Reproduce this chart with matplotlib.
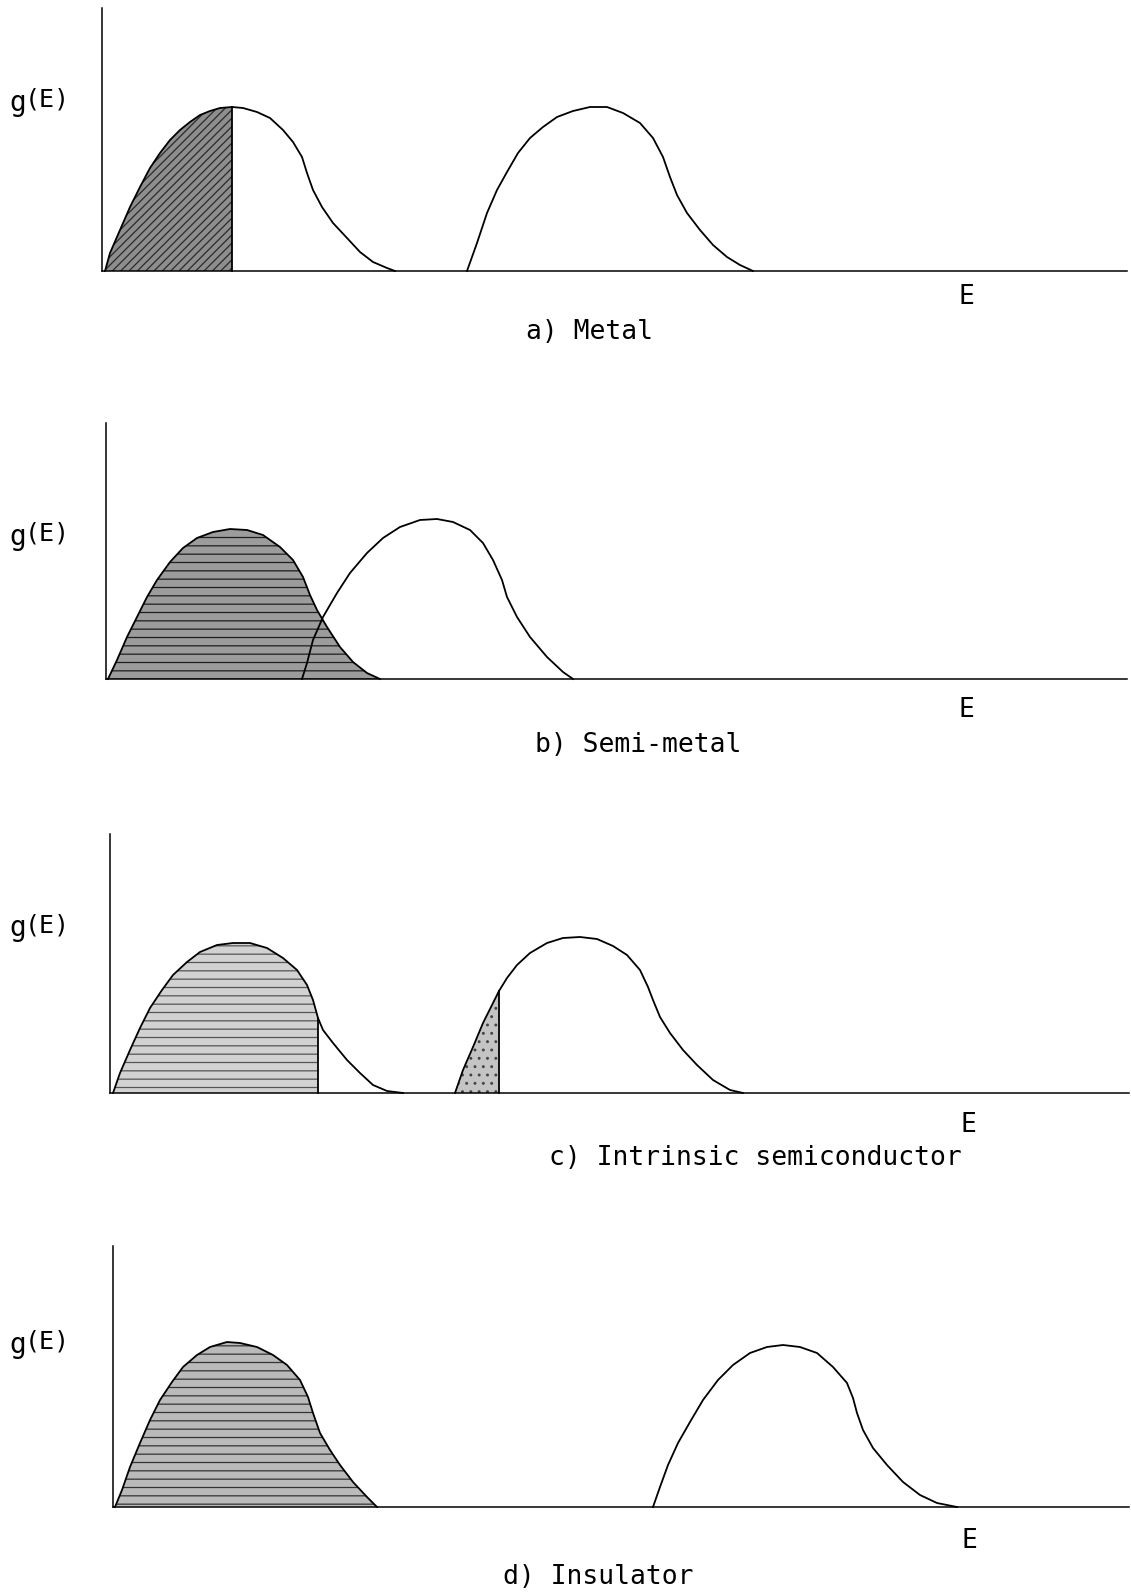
import numpy as np
import matplotlib
matplotlib.use('Agg')
import matplotlib.pyplot as plt

W, H = 1131, 1595

# density of states curves, E and g(E) in the same units on every panel
# ---- a) metal
a_E1 = [0.03, 0.08, 0.18, 0.28, 0.38, 0.48, 0.58, 0.68, 0.78, 0.88, 0.98, 1.08, 1.18, 1.30,
        1.41, 1.55, 1.68, 1.81, 1.91, 2.00, 2.05, 2.11, 2.20, 2.31, 2.45, 2.58, 2.71, 2.85, 2.93]
a_g1 = [0.00, 0.18, 0.41, 0.64, 0.84, 1.03, 1.18, 1.31, 1.41, 1.49, 1.56, 1.60, 1.63, 1.64,
        1.63, 1.59, 1.53, 1.41, 1.29, 1.14, 0.98, 0.81, 0.64, 0.48, 0.33, 0.19, 0.09, 0.03, 0.00]
a_E2 = [3.65, 3.75, 3.85, 3.95, 4.05, 4.16, 4.28, 4.41, 4.55, 4.71, 4.88, 5.05, 5.21, 5.38,
        5.51, 5.61, 5.68, 5.75, 5.85, 5.98, 6.11, 6.25, 6.38, 6.51]
a_g2 = [0.00, 0.28, 0.58, 0.81, 0.99, 1.18, 1.33, 1.44, 1.54, 1.60, 1.64, 1.64, 1.58, 1.48,
        1.33, 1.14, 0.94, 0.76, 0.58, 0.41, 0.26, 0.14, 0.06, 0.00]
a_fermi = 1.30

# ---- b) semi-metal
b_E1 = [0.02, 0.11, 0.21, 0.31, 0.41, 0.51, 0.64, 0.77, 0.91, 1.07, 1.24, 1.41, 1.57, 1.74,
        1.87, 1.97, 2.04, 2.11, 2.21, 2.34, 2.47, 2.61, 2.74]
b_g1 = [0.00, 0.19, 0.42, 0.62, 0.82, 0.99, 1.17, 1.31, 1.41, 1.47, 1.50, 1.49, 1.44, 1.32,
        1.19, 1.02, 0.84, 0.69, 0.52, 0.32, 0.17, 0.06, 0.00]
b_E2 = [1.96, 2.01, 2.07, 2.17, 2.31, 2.44, 2.61, 2.77, 2.94, 3.14, 3.31, 3.47, 3.64, 3.77,
        3.87, 3.96, 4.01, 4.11, 4.24, 4.41, 4.57, 4.67]
b_g2 = [0.00, 0.16, 0.39, 0.62, 0.86, 1.06, 1.26, 1.41, 1.52, 1.59, 1.60, 1.57, 1.49, 1.36,
        1.19, 0.99, 0.82, 0.62, 0.42, 0.22, 0.07, 0.00]
b_fermi = 2.74

# ---- c) intrinsic semiconductor
c_E1 = [0.03, 0.10, 0.20, 0.30, 0.40, 0.52, 0.63, 0.77, 0.90, 1.07, 1.23, 1.40, 1.57, 1.73,
        1.87, 1.97, 2.03, 2.08, 2.13, 2.23, 2.37, 2.50, 2.63, 2.77, 2.93]
c_g1 = [0.00, 0.20, 0.43, 0.65, 0.85, 1.03, 1.18, 1.31, 1.41, 1.48, 1.50, 1.50, 1.45, 1.35,
        1.23, 1.08, 0.93, 0.75, 0.63, 0.50, 0.33, 0.20, 0.08, 0.02, 0.00]
c_E2 = [3.45, 3.53, 3.63, 3.73, 3.83, 3.89, 3.97, 4.07, 4.20, 4.37, 4.53, 4.70, 4.87, 5.03,
        5.17, 5.30, 5.38, 5.43, 5.50, 5.60, 5.73, 5.87, 6.03, 6.20, 6.33]
c_g2 = [0.00, 0.23, 0.46, 0.70, 0.90, 1.02, 1.15, 1.28, 1.40, 1.50, 1.55, 1.56, 1.54, 1.47,
        1.38, 1.23, 1.06, 0.93, 0.76, 0.60, 0.43, 0.28, 0.13, 0.03, 0.00]
c_fermi1 = 2.08
c_fermi2 = 3.89

# ---- d) insulator
d_E1 = [0.02, 0.09, 0.17, 0.27, 0.37, 0.47, 0.59, 0.70, 0.84, 0.97, 1.14, 1.27, 1.44, 1.60,
        1.74, 1.87, 1.95, 2.00, 2.07, 2.17, 2.27, 2.40, 2.54, 2.64]
d_g1 = [0.00, 0.17, 0.40, 0.64, 0.87, 1.07, 1.25, 1.40, 1.52, 1.60, 1.65, 1.64, 1.60, 1.52,
        1.42, 1.27, 1.10, 0.94, 0.74, 0.57, 0.42, 0.25, 0.10, 0.00]
d_E2 = [5.40, 5.47, 5.55, 5.65, 5.77, 5.90, 6.05, 6.20, 6.37, 6.54, 6.70, 6.87, 7.04, 7.20,
        7.34, 7.40, 7.44, 7.50, 7.60, 7.74, 7.90, 8.07, 8.24, 8.44]
d_g2 = [0.00, 0.20, 0.42, 0.64, 0.85, 1.07, 1.27, 1.42, 1.54, 1.60, 1.62, 1.60, 1.54, 1.40,
        1.24, 1.09, 0.94, 0.77, 0.59, 0.42, 0.25, 0.12, 0.04, 0.00]
d_fermi = 2.64

captions = ['a) Metal', 'b) Semi-metal', 'c) Intrinsic semiconductor', 'd) Insulator']

plt.rcParams['font.family'] = ['DejaVu Sans Mono']
plt.rcParams['hatch.linewidth'] = 0.9

fig = plt.figure(figsize=(W / 100, H / 100), dpi=100)
fig.patch.set_facecolor('white')


def fx(x):
    return x / W


def fy(y):
    return 1 - y / H


def panel(x0, top, base, x1):
    ax = fig.add_axes([fx(x0), fy(base), fx(x1 - x0), (base - top) / H])
    ax.set_xlim(0, (x1 - x0) / 100)
    ax.set_ylim(0, (base - top) / 100)
    for s in ['top', 'right']:
        ax.spines[s].set_visible(False)
    for s in ['left', 'bottom']:
        ax.spines[s].set_linewidth(1.1)
    ax.set_xticks([])
    ax.set_yticks([])
    ax.patch.set_alpha(0)
    return ax


def band(ax, E, g, fermi=None, face='#b0b0b0', hatch='--', hcol='#333333', edge=False):
    E = np.array(E)
    g = np.array(g)
    if fermi is not None:
        m = E <= fermi + 1e-9
        ax.fill_between(E[m], g[m], 0, facecolor=face, hatch=hatch, edgecolor=hcol,
                        linewidth=0, zorder=1)
        if edge:
            ax.plot([E[m][-1], E[m][-1]], [0, g[m][-1]], color='k', lw=1.3, zorder=3,
                    clip_on=False)
    ax.plot(E, g, color='k', lw=1.3, zorder=3, clip_on=False, solid_joinstyle='round')


def labels(gy, ey, ex, cy, cx, text):
    fig.text(fx(9), fy(gy), 'g', fontsize=20, va='baseline', ha='left')
    fig.text(fx(25), fy(gy - 4), '(E)', fontsize=18, va='baseline', ha='left')
    fig.text(fx(ex), fy(ey), 'E', fontsize=19, va='center', ha='center')
    fig.text(fx(cx), fy(cy), text, fontsize=19, va='center', ha='center')


# a) metal: band half filled up to the Fermi level
ax = panel(102, 8, 271, 1127)
band(ax, a_E1, a_g1, a_fermi, face='#8e8e8e', hatch='////', hcol='#2a2a2a', edge=True)
band(ax, a_E2, a_g2)
labels(111, 297, 966, 332, 590, captions[0])

# b) semi-metal: overlapping bands, lower band full
ax = panel(106, 423, 679, 1127)
band(ax, b_E1, b_g1, b_fermi, face='#9c9c9c', hatch='--', hcol='#1e1e1e')
band(ax, b_E2, b_g2)
labels(545, 710, 966, 745, 638, captions[1])

# c) intrinsic semiconductor: thermally excited carriers across the gap
ax = panel(110, 834, 1093, 1129)
band(ax, c_E1, c_g1, c_fermi1, face='#d2d2d2', hatch='--', hcol='#555555', edge=True)
band(ax, c_E2, c_g2, c_fermi2, face='#c4c4c4', hatch='..', hcol='#444444', edge=True)
labels(936, 1125, 968, 1158, 755, captions[2])

# d) insulator: full valence band, wide gap
ax = panel(113, 1246, 1507, 1129)
band(ax, d_E1, d_g1, d_fermi, face='#bababa', hatch='--', hcol='#333333')
band(ax, d_E2, d_g2)
labels(1353, 1541, 969, 1577, 598, captions[3])

fig.savefig('out.png', dpi=100, facecolor='white')
